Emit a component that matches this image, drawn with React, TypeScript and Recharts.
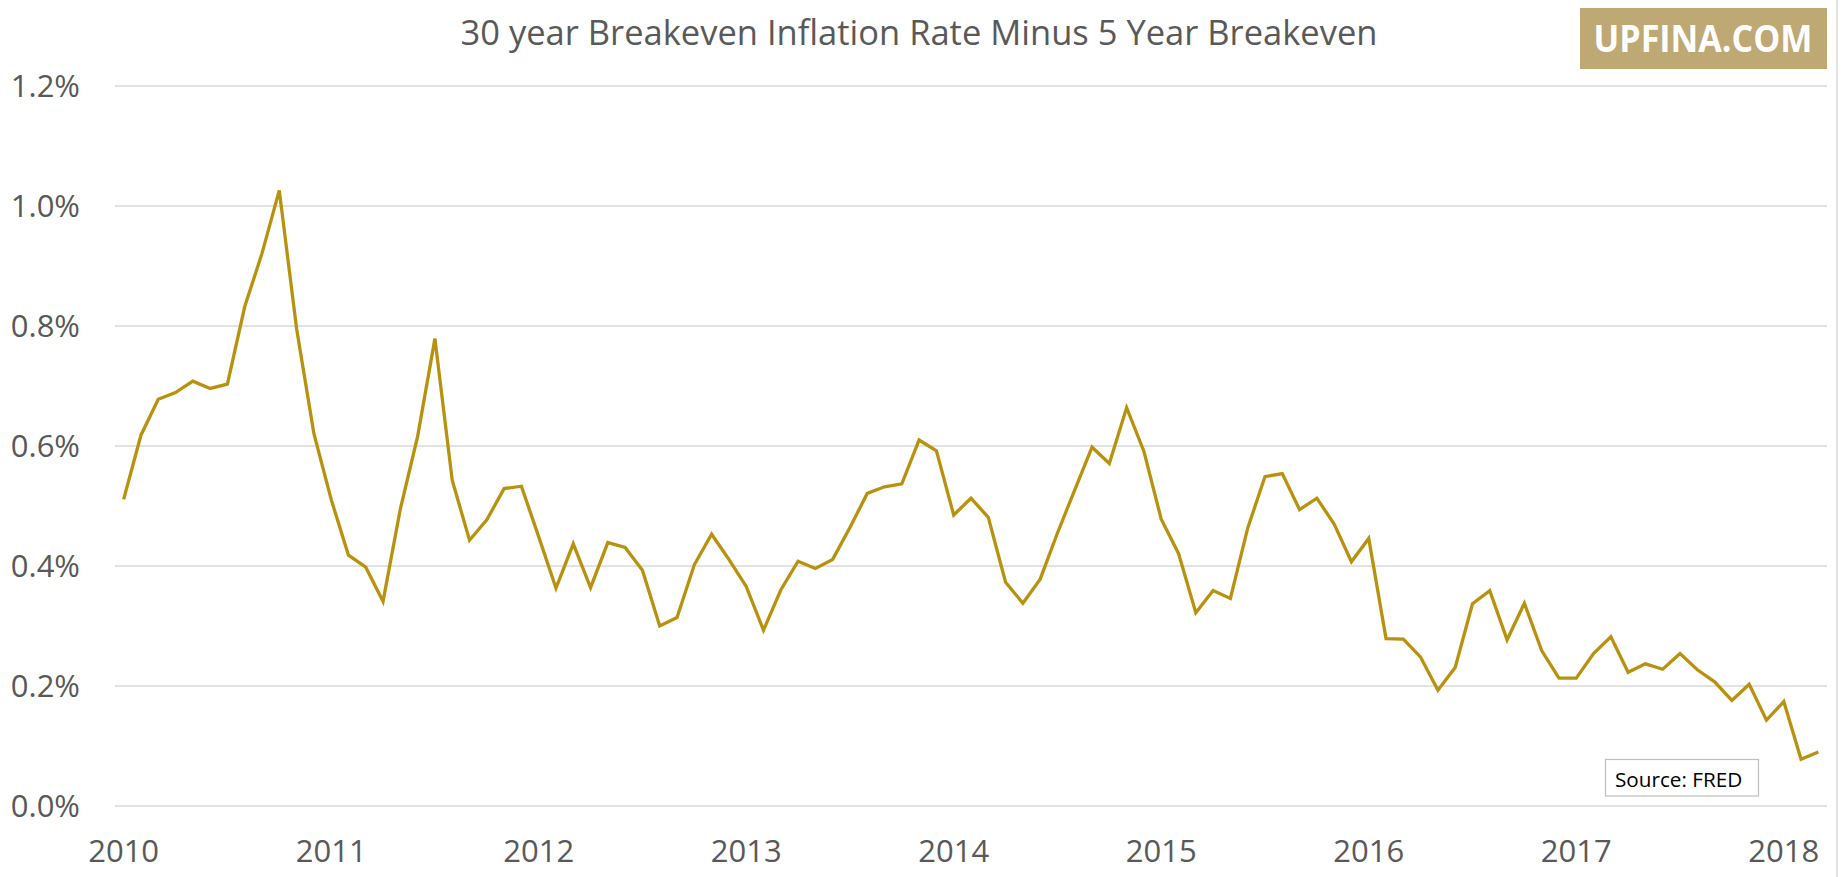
import React from 'react';
import { LineChart, Line, XAxis, YAxis, CartesianGrid } from 'recharts';

// 30y breakeven minus 5y breakeven, monthly, Jan 2010 - Mar 2018 (%)
const spread = [
  0.511, 0.618, 0.678, 0.689, 0.708, 0.696, 0.703, 0.832, 0.921, 1.026, 0.796, 0.621,
  0.511, 0.418, 0.398, 0.341, 0.495, 0.616, 0.779, 0.543, 0.443, 0.477, 0.529, 0.533,
  0.449, 0.363, 0.437, 0.364, 0.439, 0.431, 0.393, 0.300, 0.314, 0.402, 0.453, 0.411,
  0.366, 0.293, 0.360, 0.408, 0.396, 0.411, 0.464, 0.521, 0.532, 0.537, 0.610, 0.592,
  0.485, 0.513, 0.481, 0.373, 0.338, 0.378, 0.455, 0.527, 0.598, 0.571, 0.664, 0.591,
  0.478, 0.421, 0.322, 0.359, 0.346, 0.463, 0.549, 0.554, 0.494, 0.513, 0.470, 0.407,
  0.446, 0.279, 0.278, 0.248, 0.193, 0.231, 0.337, 0.359, 0.277, 0.338, 0.259, 0.213,
  0.213, 0.254, 0.282, 0.223, 0.237, 0.228, 0.254, 0.227, 0.207, 0.176, 0.203, 0.143,
  0.174, 0.078, 0.090,
];

const years = ['2010', '2011', '2012', '2013', '2014', '2015', '2016', '2017', '2018'];
const yTicks = [0, 0.2, 0.4, 0.6, 0.8, 1.0, 1.2];
const xTicks = years.map((_, i) => i * 12);

const data = spread.map((value, idx) => ({
  idx,
  month: `${years[Math.floor(idx / 12)]}-${String((idx % 12) + 1).padStart(2, '0')}`,
  value,
}));

const W = 1843;
const H = 877;
const FONT = '"Open Sans", sans-serif';
const TEXT = '#595959';

export default function App() {
  return (
    <div style={{ position: 'absolute', left: 0, top: 0, width: W, height: H, background: '#fff' }}>
      <LineChart
        width={W}
        height={H}
        data={data}
        margin={{ top: 86, right: 16, bottom: 0, left: 0 }}
      >
        <CartesianGrid vertical={false} stroke="#D9D9D9" strokeWidth={1.3} />
        <XAxis
          dataKey="idx"
          type="number"
          domain={[-0.5, spread.length - 0.5]}
          ticks={xTicks}
          tickFormatter={(v) => years[Math.round(v / 12)]}
          axisLine={false}
          tickLine={false}
          tickSize={0}
          tickMargin={34}
          height={71}
          interval={0}
          tick={{ fontSize: 31, fill: TEXT, fontFamily: FONT }}
        />
        <YAxis
          type="number"
          domain={[0, 1.2]}
          ticks={yTicks}
          tickFormatter={(v) => `${v.toFixed(1)}%`}
          axisLine={false}
          tickLine={false}
          tickSize={0}
          tickMargin={35}
          width={115}
          interval={0}
          tick={{ fontSize: 31, fill: TEXT, fontFamily: FONT }}
        />
        <Line
          type="linear"
          dataKey="value"
          stroke="#B8920E"
          strokeWidth={3.3}
          dot={false}
          isAnimationActive={false}
        />
      </LineChart>
      <svg
        width={W}
        height={H}
        style={{ position: 'absolute', left: 0, top: 0, pointerEvents: 'none' }}
      >
        <text x={919} y={45} textAnchor="middle" fontFamily={FONT} fontSize={34.5} fill={TEXT}>
          30 year Breakeven Inflation Rate Minus 5 Year Breakeven
        </text>
        <rect x={1580} y={8} width={247} height={61} fill="#BEA873" />
        <text
          x={1593.5}
          y={52}
          fontFamily={FONT}
          fontWeight={700}
          fontSize={38}
          fill="#FFFFFF"
          textLength={219}
          lengthAdjust="spacingAndGlyphs"
        >
          UPFINA.COM
        </text>
        <rect x={1605.5} y={759.5} width={153} height={36.5} fill="#FFFFFF" stroke="#BFBFBF" strokeWidth={1.2} />
        <text x={1615} y={786.5} fontFamily={FONT} fontSize={20.7} fill="#000000">
          Source: FRED
        </text>
        <line x1={1837} y1={0} x2={1837} y2={H} stroke="#D9D9D9" strokeWidth={1.5} />
      </svg>
    </div>
  );
}
